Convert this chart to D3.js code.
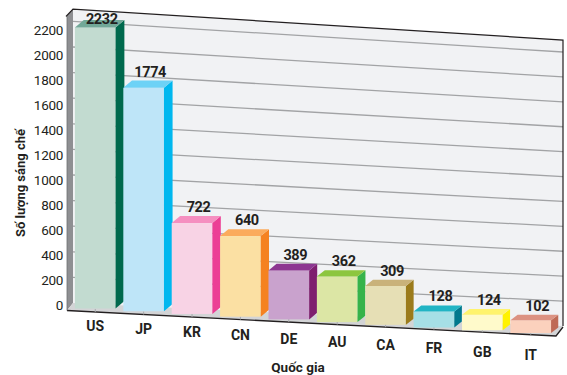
<!DOCTYPE html>
<html>
<head>
<meta charset="utf-8">
<script src="https://cdn.jsdelivr.net/npm/d3@7"></script>
<style>
  body { margin: 0; background: #fff; }
  text { font-family: Roboto, "Open Sans", sans-serif; fill: #231f20; }
</style>
</head>
<body>
<div id="chart"></div>
<script>
// data
const countries = ["US", "JP", "KR", "CN", "DE", "AU", "CA", "FR", "GB", "IT"];
const patents = [2232, 1774, 722, 640, 389, 362, 309, 128, 124, 102];
const yTicks = [0, 200, 400, 600, 800, 1000, 1200, 1400, 1600, 1800, 2000, 2200];
const gridValues = [200, 400, 600, 800, 1000, 1200, 1400, 1600, 1800, 2000, 2200];

// colours of each box: front, side, top
const frontColors = ["#c2dbd0", "#bee5f8", "#f8d3e5", "#fbe0a3", "#c9a2cd", "#dce6a5", "#e6dfb5", "#a6dfe6", "#fffacb", "#fbd1bd"];
const sideColors  = ["#00694d", "#00b7ef", "#ec3f95", "#f58220", "#7e1f6f", "#36b34a", "#9b7b1b", "#00788d", "#fff200", "#bf6a55"];
const topColors   = ["#72a898", "#6dd2f6", "#f58fc0", "#fbab5c", "#8d3691", "#8cc63f", "#c9b27a", "#21b4c4", "#fff36d", "#dc9282"];

const W = 567, H = 375;
const svg = d3.select("#chart").append("svg")
  .attr("width", W).attr("height", H);

// back wall in perspective: left edge x=73, right edge x=563
const wallX0 = 73, wallX1 = 563, wallTopValue = 2296;
const wallLeft = d3.scaleLinear().domain([0, 2200]).range([303, 21.4]);
const wallRight = d3.scaleLinear().domain([0, 2200]).range([326, 52]);

// front plane scales
const x = d3.scaleBand().domain(countries).range([73, 553]).paddingInner(0.16).paddingOuter(0.04);
const h = d3.scaleLinear().domain([0, 2200]).range([0, 277]);
const baseY = d3.scaleLinear().domain([95, 531]).range([308.5, 333]);
const labelY = d3.scaleLinear().domain([95, 531]).range([325.5, 355]);
const depthX = d3.scaleLinear().domain([95, 531]).range([8.8, 7.2]);
const depthY = d3.scaleLinear().domain([95, 531]).range([-7.5, -5.5]);
const yAxisScale = d3.scaleLinear().domain([0, 2200]).range([305, 30]);

// wall
svg.append("polygon")
  .attr("points", [[wallX0, wallLeft(wallTopValue)], [wallX1, wallRight(wallTopValue)], [wallX1, wallRight(0)], [wallX0, wallLeft(0)]].join(" "))
  .attr("fill", "#f1f2f4");

// left side wall
svg.append("polygon")
  .attr("points", [[67, 16], [wallX0, wallLeft(wallTopValue)], [wallX0, wallLeft(0)], [67, 310.5]].join(" "))
  .attr("fill", "#8e8f92");

// gridlines on the wall
svg.append("g").selectAll("line")
  .data(gridValues)
  .join("line")
    .attr("x1", wallX0).attr("x2", wallX1)
    .attr("y1", d => wallLeft(d)).attr("y2", d => wallRight(d))
    .attr("stroke", "#a2a3a5")
    .attr("stroke-width", 1.3);

// floor
svg.append("polygon")
  .attr("points", [[wallX0, wallLeft(0)], [wallX1, wallRight(0)], [556, 336], [67, 310.5]].join(" "))
  .attr("fill", "#d3d4d6");
svg.append("polyline")
  .attr("points", [[67, 310.5], [556, 336], [wallX1, wallRight(0) + 1]].join(" "))
  .attr("fill", "none").attr("stroke", "#231f20").attr("stroke-width", 1.3);

// frame of the wall
svg.append("polyline")
  .attr("points", [[66, 16.5], [wallX0, wallLeft(wallTopValue)], [wallX1, wallRight(wallTopValue)], [wallX1, wallRight(0)]].join(" "))
  .attr("fill", "none").attr("stroke", "#231f20").attr("stroke-width", 1.2);
svg.append("line")
  .attr("x1", 67).attr("x2", 67).attr("y1", 16.5).attr("y2", 310.5)
  .attr("stroke", "#6d6e71").attr("stroke-width", 0.8);

// small ticks on the floor edge
const floorEdge = d3.scaleLinear().domain([67, 556]).range([310.5, 336]);
svg.append("g").selectAll("line")
  .data(countries)
  .join("line")
    .attr("x1", d => x(d) + x.bandwidth() / 2)
    .attr("x2", d => x(d) + x.bandwidth() / 2)
    .attr("y1", d => floorEdge(x(d) + x.bandwidth() / 2) - 3)
    .attr("y2", d => floorEdge(x(d) + x.bandwidth() / 2))
    .attr("stroke", "#a7a9ac").attr("stroke-width", 1);

// 3d bars
const bars = svg.append("g").selectAll("g")
  .data(countries.map((c, i) => ({country: c, value: patents[i], i: i})))
  .join("g");

bars.each(function(d) {
  const g = d3.select(this);
  const x0 = x(d.country), w = x.bandwidth();
  const cx = x0 + w / 2;
  const bottom = baseY(cx), top = bottom - h(d.value);
  const dx = depthX(cx), dy = depthY(cx);

  g.append("rect")
    .attr("x", x0).attr("y", top)
    .attr("width", w).attr("height", bottom - top)
    .attr("fill", frontColors[d.i]);
  g.append("polygon")
    .attr("points", [[x0 + w, top], [x0 + w + dx, top + dy], [x0 + w + dx, bottom + dy], [x0 + w, bottom]].join(" "))
    .attr("fill", sideColors[d.i]);
  g.append("polygon")
    .attr("points", [[x0, top], [x0 + dx, top + dy], [x0 + w + dx, top + dy], [x0 + w, top]].join(" "))
    .attr("fill", topColors[d.i]);
});

// value labels
svg.append("g").selectAll("text")
  .data(countries.map((c, i) => ({country: c, value: patents[i]})))
  .join("text")
    .attr("x", d => x(d.country) + x.bandwidth() / 2 + 6.5)
    .attr("y", d => {
      const cx = x(d.country) + x.bandwidth() / 2;
      return Math.max(baseY(cx) - h(d.value) + depthY(cx) - 4, 24);
    })
    .attr("text-anchor", "middle")
    .attr("font-size", "14.5px")
    .attr("font-weight", "bold")
    .attr("letter-spacing", "-0.4px")
    .text(d => d.value);

// y axis labels
const yAxis = d3.axisLeft(yAxisScale).tickValues(yTicks).tickFormat(d3.format("d")).tickSize(0).tickPadding(0);
const yAxisG = svg.append("g")
  .attr("transform", "translate(63,0)")
  .call(yAxis);
yAxisG.select(".domain").remove();
yAxisG.selectAll("text")
  .attr("font-size", "13.5px")
  .attr("font-family", "Roboto, sans-serif")
  .attr("letter-spacing", "-0.3px")
  .attr("fill", "#231f20");

// x labels along the slanted floor
svg.append("g").selectAll("text")
  .data(countries)
  .join("text")
    .attr("x", d => x(d) + x.bandwidth() / 2)
    .attr("y", d => labelY(x(d) + x.bandwidth() / 2))
    .attr("dy", "0.36em")
    .attr("text-anchor", "middle")
    .attr("font-size", "14px")
    .attr("font-weight", "bold")
    .text(d => d);

// axis titles
svg.append("text")
  .attr("transform", "translate(20,183) rotate(-90)")
  .attr("dy", "0.36em")
  .attr("text-anchor", "middle")
  .attr("font-size", "13px")
  .attr("font-weight", "bold")
  .text("Số lượng sáng chế");

svg.append("text")
  .attr("x", 298).attr("y", 367)
  .attr("dy", "0.36em")
  .attr("text-anchor", "middle")
  .attr("font-size", "13.5px")
  .attr("font-weight", "bold")
  .text("Quốc gia");
</script>
</body>
</html>
